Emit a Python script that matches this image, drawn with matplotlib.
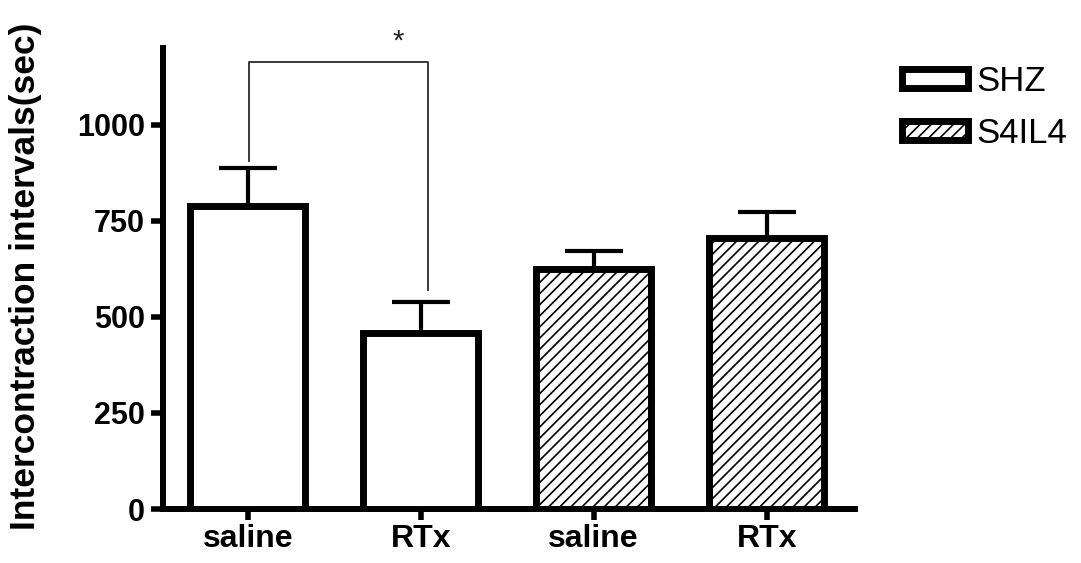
import numpy as np
import matplotlib
matplotlib.use('Agg')
import matplotlib.pyplot as plt

plt.rcParams['font.family'] = ['Liberation Sans', 'DejaVu Sans']
plt.rcParams['hatch.linewidth'] = 1.2

# data
groups = ['saline', 'RTx', 'saline', 'RTx']
means = [790, 458, 625, 705]
sems = [97, 82, 47, 68]
series = ['SHZ', 'S4IL4']
series_of_bar = [0, 0, 1, 1]
sig_pair = (0, 1)
sig_height = 1164
sig_legs = [906, 570]

fig = plt.figure(figsize=(10.81, 5.63), dpi=100)
ax = fig.add_axes([0.1508, 0.0959, 0.640, 0.8188])

x = np.arange(len(groups))
hatches = ['', '///']
bars = []
for i in range(len(groups)):
    b = ax.bar(x[i], means[i], width=0.665, color='white', edgecolor='black',
               linewidth=5, hatch=hatches[series_of_bar[i]], zorder=3)
    bars.append(b)
ax.errorbar(x, means, yerr=[np.zeros(len(sems)), sems], fmt='none',
            ecolor='black', elinewidth=3, capsize=21, capthick=3, zorder=2)

# significance bracket
x0, x1 = x[sig_pair[0]] + 0.01, x[sig_pair[1]] + 0.04
ax.plot([x0, x0, x1, x1], [sig_legs[0], sig_height, sig_height, sig_legs[1]],
        color='#2a2a2a', lw=1.3, clip_on=False, zorder=4)
ax.text(0.87, 1218, '*', ha='center', va='center', fontsize=21,
        color='#222222', clip_on=False)

ax.set_xlim(-0.49, 3.51)
ax.set_ylim(0, 1200)
ax.set_yticks([0, 250, 500, 750, 1000])
ax.set_xticks(x)
ax.set_xticklabels(groups)
for s in ['top', 'right']:
    ax.spines[s].set_visible(False)
for s in ['left', 'bottom']:
    ax.spines[s].set_linewidth(4.3)
ax.tick_params(axis='y', length=9, width=4, pad=4, labelsize=22)
ax.tick_params(axis='x', length=8, width=4, pad=3, labelsize=23)
for lab in ax.get_xticklabels() + ax.get_yticklabels():
    lab.set_fontweight('bold')
ax.set_ylabel('Intercontraction intervals(sec)', fontsize=25.5,
              fontweight='bold')
ax.yaxis.set_label_coords(-0.175, 0.505)

fig.legend([bars[0], bars[2]], series, loc='upper left',
           bbox_to_anchor=(0.834, 0.885), frameon=False, fontsize=25,
           handlelength=1.9, handleheight=0.45, handletextpad=0.25,
           labelspacing=0.55, borderpad=0, borderaxespad=0)

fig.savefig('out.png', dpi=100)
